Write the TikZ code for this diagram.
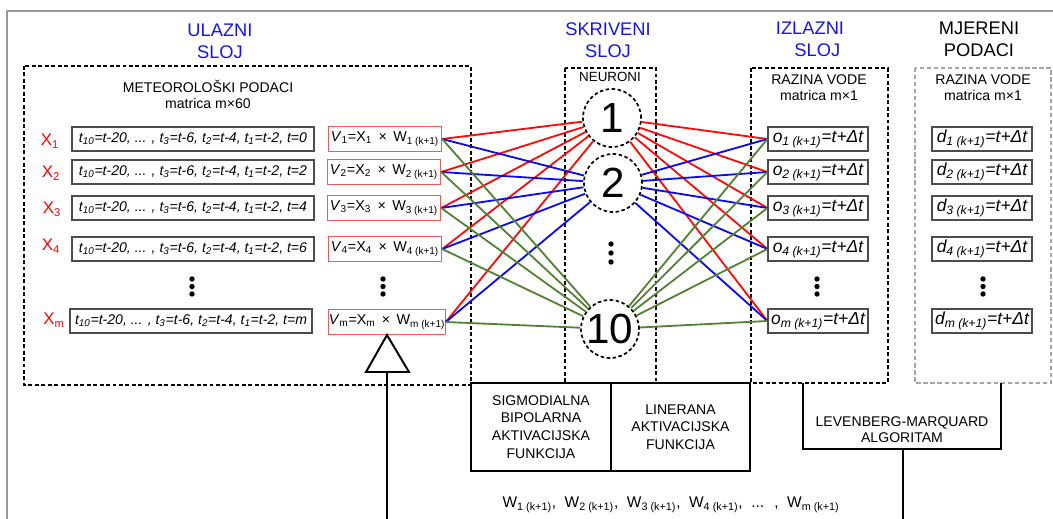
\documentclass[tikz,border=0pt]{standalone}
\usepackage{fontspec}
\setmainfont{Liberation Sans}
\usetikzlibrary{positioning}
\definecolor{laycol}{RGB}{20,20,235}
\definecolor{n1col}{RGB}{255,10,10}
\definecolor{n2col}{RGB}{10,10,245}
\definecolor{n10col}{RGB}{84,130,53}
\definecolor{vcol}{RGB}{240,90,90}
\newcommand{\lsub}[1]{\textsubscript{#1}}
\newcommand{\fsz}[2]{\fontsize{#1}{#2}\selectfont}
\tikzset{
  laytitle/.style={font=\fsz{13}{15.6},text=laycol,align=center},
  laybox/.style={draw,line width=1.4pt,dash pattern=on 2.8pt off 1.8pt},
  measbox/.style={draw=gray!70,line width=0.8pt,dash pattern=on 3pt off 2pt},
  hdr/.style={font=\fsz{10}{11.4},align=center},
  rowbox/.style={draw=gray!60!black,line width=0.8pt,minimum width=6.05cm,
    minimum height=0.6cm,inner sep=0pt,font=\fsz{10}{12}\itshape},
  vbox/.style={draw=vcol,line width=0.8pt,minimum width=2.83cm,
    minimum height=0.62cm,inner sep=0pt,font=\fsz{10.2}{12}},
  xlbl/.style={text=red,font=\fsz{12}{13}},
  outbox/.style={draw=gray!60!black,line width=0.8pt,minimum width=2.5cm,
    minimum height=0.6cm,inner sep=0pt,font=\fsz{12.4}{14}\itshape},
  neuron/.style={circle,draw,line width=1.2pt,dash pattern=on 2.5pt off 1.8pt,
    minimum size=1.45cm,inner sep=0pt,font=\fsz{30}{30}},
  actbox/.style={draw,line width=1.4pt,minimum width=3.5cm,minimum height=2.2cm,
    align=center,font=\fsz{10}{12.6}},
  n1line/.style={n1col,line width=1.3pt},
  n2line/.style={n2col,line width=1.3pt},
  n10line/.style={n10col,line width=1.3pt}
}
\begin{document}
\begin{tikzpicture}[x=0.025cm,y=-0.025cm]
  \useasboundingbox (0,0) rectangle (1053,519);
  \draw[gray!80,line width=0.8pt] (7,540)--(7,11)--(1070,11);
  % layer titles
  \node[laytitle] (tin) at (220,41) {ULAZNI\\SLOJ};
  \node[laytitle] (thid) at (608,40) {SKRIVENI\\SLOJ};
  \node[laytitle] (tout) at (810,39) {IZLAZNI\\\hspace*{0.8em}SLOJ};
  \node[laytitle,text=black] (tmeas) at (979,39) {MJERENI\\PODACI};
  % dashed layer boxes
  \draw[laybox] (24,66) rectangle (471,385);
  \draw[laybox] (565,68) rectangle (656,383);
  \draw[laybox] (751,68) rectangle (888,383);
  \draw[measbox] (915,68) rectangle (1051,383);
  \node[hdr] (hin) at (208,94) {METEOROLOŠKI PODACI\\matrica m×60};
  \node[hdr,font=\fsz{9.5}{11}] (hhid) at (610,77) {NEURONI};
  \node[hdr] (hout) at (819,88) {RAZINA VODE\\matrica m×1};
  \node[hdr] (hmeas) at (983,88) {RAZINA VODE\\matrica m×1};
  % input rows
  \node[xlbl] (x1) at (50,141) {X\lsub{1}};
  \node[xlbl] (x2) at (51,173) {X\lsub{2}};
  \node[xlbl] (x3) at (52,209) {X\lsub{3}};
  \node[xlbl] (x4) at (51,246) {X\lsub{4}};
  \node[xlbl] (xm) at (54,320) {X\lsub{m}};
  \node[rowbox] (r1) at (193,139) {t\lsub{10}=t-20, ... , t\lsub{3}=t-6, t\lsub{2}=t-4, t\lsub{1}=t-2, t=0};
  \node[rowbox] (r2) at (193,172) {t\lsub{10}=t-20, ... , t\lsub{3}=t-6, t\lsub{2}=t-4, t\lsub{1}=t-2, t=2};
  \node[rowbox] (r3) at (193,208) {t\lsub{10}=t-20, ... , t\lsub{3}=t-6, t\lsub{2}=t-4, t\lsub{1}=t-2, t=4};
  \node[rowbox] (r4) at (193,249) {t\lsub{10}=t-20, ... , t\lsub{3}=t-6, t\lsub{2}=t-4, t\lsub{1}=t-2, t=6};
  \node[rowbox] (rm) at (191,321) {t\lsub{10}=t-20, ... , t\lsub{3}=t-6, t\lsub{2}=t-4, t\lsub{1}=t-2, t=m};
  \node[vbox] (v1) at (385,139) {\textit{V}\lsub{1}=X\lsub{1} \,×\, W\lsub{1 (k+1)}};
  \node[vbox] (v2) at (384,172) {\textit{V}\lsub{2}=X\lsub{2} \,×\, W\lsub{2 (k+1)}};
  \node[vbox] (v3) at (384,208) {\textit{V}\lsub{3}=X\lsub{3} \,×\, W\lsub{3 (k+1)}};
  \node[vbox] (v4) at (385,249) {\textit{V}\lsub{4}=X\lsub{4} \,×\, W\lsub{4 (k+1)}};
  \node[vbox] (vm) at (387,322) {\textit{V}\lsub{m}=X\lsub{m} \,×\, W\lsub{m (k+1)}};
  \fill (192,279) circle (1.9pt) (192,286.5) circle (1.9pt) (192,294) circle (1.9pt)
        (383,279) circle (1.9pt) (383,286.5) circle (1.9pt) (383,294) circle (1.9pt);
  % neurons
  \node[neuron] (n1) at (612,118) {1};
  \node[neuron] (n2) at (613,183) {2};
  \node[neuron] (n10) at (610,329) {10};
  \fill (611,244) circle (1.9pt) (611,253) circle (1.9pt) (611,262) circle (1.9pt);
  % output and measured rows
  \node[outbox] (o1) at (818,139) {o\lsub{1 (k+1)}=t+Δt};
  \node[outbox] (o2) at (818,172) {o\lsub{2 (k+1)}=t+Δt};
  \node[outbox] (o3) at (818,208) {o\lsub{3 (k+1)}=t+Δt};
  \node[outbox] (o4) at (818,249) {o\lsub{4 (k+1)}=t+Δt};
  \node[outbox] (om) at (818,321) {o\lsub{m (k+1)}=t+Δt};
  \node[outbox] (d1) at (982,139) {d\lsub{1 (k+1)}=t+Δt};
  \node[outbox] (d2) at (982,172) {d\lsub{2 (k+1)}=t+Δt};
  \node[outbox] (d3) at (982,208) {d\lsub{3 (k+1)}=t+Δt};
  \node[outbox] (d4) at (982,249) {d\lsub{4 (k+1)}=t+Δt};
  \node[outbox] (dm) at (982,321) {d\lsub{m (k+1)}=t+Δt};
  \fill (817,279) circle (1.9pt) (817,286.5) circle (1.9pt) (817,294) circle (1.9pt)
        (983,279) circle (1.9pt) (983,286.5) circle (1.9pt) (983,294) circle (1.9pt);
  % weights
  \draw[n1line] (v1.east)--(n1) (v2.east)--(n1) (v3.east)--(n1) (v4.east)--(n1) (vm.east)--(n1);
  \draw[n2line] (v1.east)--(n2) (v2.east)--(n2) (v3.east)--(n2) (v4.east)--(n2) (vm.east)--(n2);
  \draw[n10line] (v1.east)--(n10) (v2.east)--(n10) (v3.east)--(n10) (v4.east)--(n10) (vm.east)--(n10);
  \draw[n1line] (n1)--(o1.west) (n1)--(o2.west) (n1)--(o3.west) (n1)--(o4.west) (n1)--(om.west);
  \draw[n2line] (n2)--(o1.west) (n2)--(o2.west) (n2)--(o3.west) (n2)--(o4.west) (n2)--(om.west);
  \draw[n10line] (n10)--(o1.west) (n10)--(o2.west) (n10)--(o3.west) (n10)--(o4.west) (n10)--(om.west);
  % activation functions
  \node[actbox] (sig) at (541,427) {SIGMODIALNA\\BIPOLARNA\\AKTIVACIJSKA\\FUNKCIJA};
  \node[actbox,minimum width=3.475cm] (lin) at (680.5,427) {LINERANA\\AKTIVACIJSKA\\FUNKCIJA};
  % training
  \draw[line width=1.4pt] (803,383)--(803,449)--(1001,449)--(1001,383);
  \node[hdr] (lm) at (902,430) {LEVENBERG-MARQUARD\\ALGORITAM};
  \coordinate (lmbot) at (903,449);
  \coordinate (lmend) at (903,530);
  \draw[line width=1.4pt] (lmbot)--(lmend);
  \draw[line width=1.4pt] (387,335)--(409,372)--(366,372)--cycle;
  \coordinate (tri) at (387,372);
  \coordinate (triend) at (387,530);
  \draw[line width=1.4pt] (tri)--(triend);
  \node[font=\fsz{11}{12}] (wlist) at (671,505)
    {W\lsub{1 (k+1)}, \ W\lsub{2 (k+1)}, \ W\lsub{3 (k+1)}, \ W\lsub{4 (k+1)}, \ ... \ , \ W\lsub{m (k+1)}};
\end{tikzpicture}
\end{document}
